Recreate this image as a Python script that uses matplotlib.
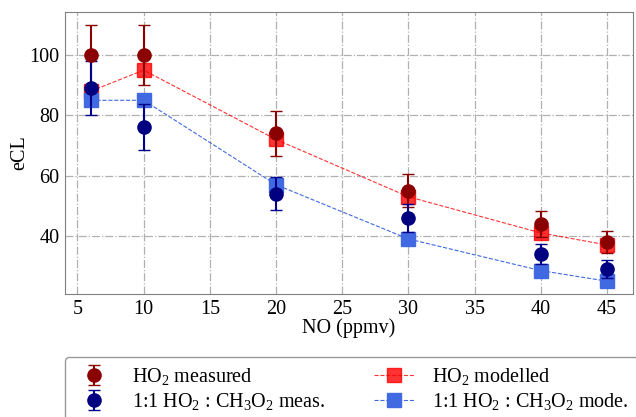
import matplotlib
matplotlib.use("Agg")
import matplotlib.pyplot as plt
import numpy as np

plt.rcParams['font.family'] = ['Liberation Serif', 'DejaVu Serif']
plt.rcParams['mathtext.fontset'] = 'custom'
plt.rcParams['mathtext.rm'] = 'Liberation Serif'
plt.rcParams['mathtext.it'] = 'Liberation Serif:italic'

# NO mixing ratio (ppmv)
no_ppmv = [6, 10, 20, 30, 40, 45]

# eCL measurements and model runs
ho2_meas = [100, 100, 74, 55, 44, 38]
mix_meas = [89, 76, 54, 46, 34, 29]
ho2_model = [88, 95, 72, 53, 41, 37]
mix_model = [85, 85, 57, 39, 28.5, 25]

# 10 % uncertainty on measured eCL
rel_err = 0.10

fs = 14.5

fig, ax = plt.subplots(figsize=(6.36, 4.17), dpi=100)
fig.subplots_adjust(left=0.102, right=0.995, top=0.971, bottom=0.295)

ax.plot(no_ppmv, ho2_model, '--s', color='red', alpha=0.8, lw=0.8,
        ms=10, label=r'HO$_2$ modelled', zorder=3)
ax.plot(no_ppmv, mix_model, '--s', color='royalblue', lw=0.8,
        ms=10, label=r'1:1 HO$_2$ : CH$_3$O$_2$ mode.', zorder=3)

ax.errorbar(no_ppmv, ho2_meas, yerr=np.array(ho2_meas) * rel_err, fmt='o',
            color='darkred', ms=9.5, capsize=4, elinewidth=1.5,
            label=r'HO$_2$ measured', zorder=4)
ax.errorbar(no_ppmv, mix_meas, yerr=np.array(mix_meas) * rel_err, fmt='o',
            color='navy', ecolor='darkblue', ms=9.5, capsize=4, elinewidth=1.5,
            label=r'1:1 HO$_2$ : CH$_3$O$_2$ meas.', zorder=4)

ax.set_xlabel('NO (ppmv)', fontsize=fs, labelpad=0)
ax.set_ylabel('eCL', fontsize=fs, labelpad=0)
ax.set_xticks(np.arange(5, 50, 5))
ax.set_yticks([40, 60, 80, 100])
ax.tick_params(labelsize=fs, length=0, pad=4)
ax.grid(True, color='#b0b0b0', linestyle='-.', linewidth=0.9)
for s in ax.spines.values():
    s.set_color('#808080')

handles, labels = ax.get_legend_handles_labels()
order = [2, 3, 0, 1]
fig.legend([handles[i] for i in order], [labels[i] for i in order],
           loc='upper left', bbox_to_anchor=(0.102, 0.144), ncol=2,
           borderaxespad=0, fontsize=fs, frameon=True, edgecolor='#808080',
           columnspacing=2.4, handlelength=2.0, handletextpad=0.9,
           borderpad=0.45, labelspacing=0.2)

plt.savefig('out.png', dpi=100)
